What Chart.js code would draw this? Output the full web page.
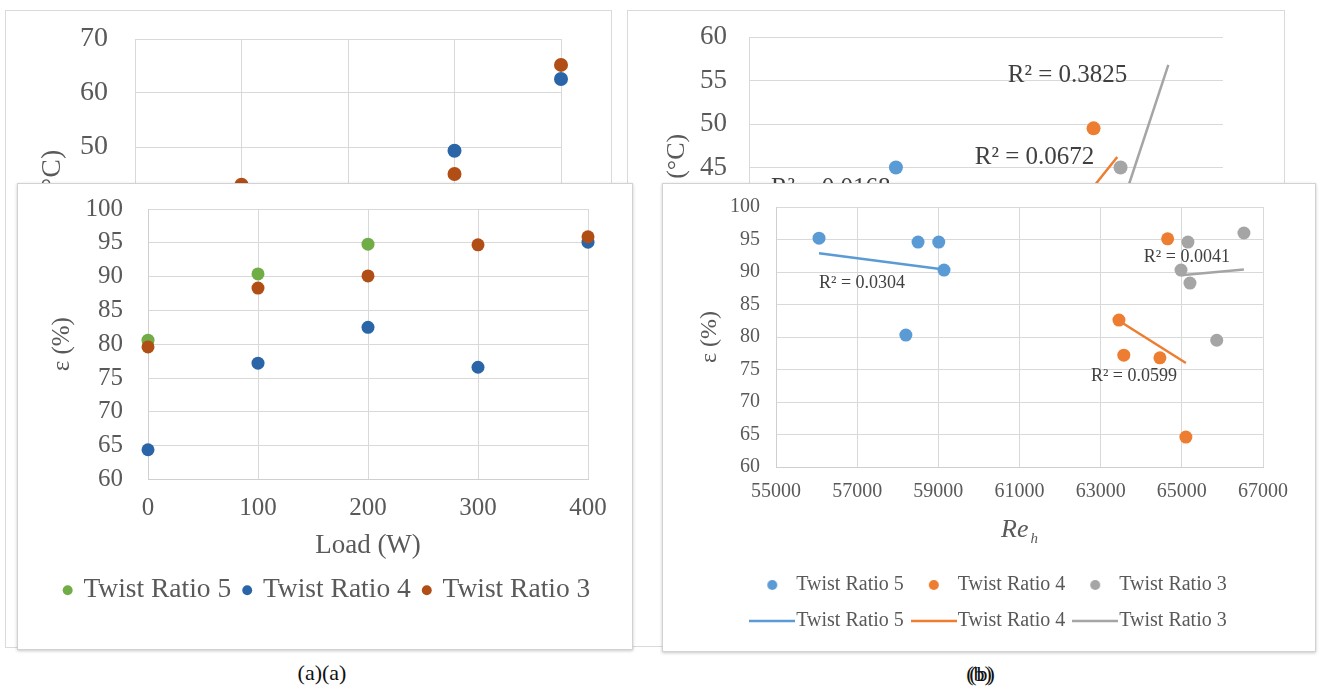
<!DOCTYPE html>
<html><head><meta charset="utf-8">
<script src="https://cdn.jsdelivr.net/npm/chart.js@4"></script>
<style>
html,body{margin:0;padding:0;background:#fff;}
body{width:1319px;height:691px;position:relative;overflow:hidden;font-family:"Liberation Serif",serif;}
.panel{position:absolute;background:#fff;box-sizing:border-box;}
.bg{border:1px solid #dadada;}
.fg{border:1px solid #d2d2d2;box-shadow:0 1px 3px rgba(0,0,0,0.22);}
canvas{position:absolute;}
.cap{position:absolute;font:22px "Liberation Serif",serif;color:#111;transform:translate(-50%,-50%);white-space:nowrap;}
</style></head><body>
<div class="panel bg" style="left:5px;top:10px;width:607px;height:638px;z-index:1"></div>
<canvas id="bgA" width="607" height="638" style="left:5px;top:10px;z-index:2"></canvas>
<div class="panel bg" style="left:627px;top:10px;width:658px;height:637px;z-index:1"></div>
<canvas id="bgB" width="658" height="637" style="left:627px;top:10px;z-index:2"></canvas>
<div class="panel fg" style="left:17px;top:183px;width:616px;height:467px;z-index:3"></div>
<canvas id="fgA" width="616" height="467" style="left:17px;top:183px;z-index:4"></canvas>
<div class="panel fg" style="left:662px;top:183px;width:654px;height:469px;z-index:3"></div>
<canvas id="fgB" width="654" height="469" style="left:662px;top:183px;z-index:4"></canvas>
<div class="cap" style="left:322px;top:673px;">(a)(a)</div>
<div class="cap" style="left:979px;top:674px;">(b)</div>
<div class="cap" style="left:982px;top:674px;">(b)</div>
<script>
// ---------- (a) background: temperature vs load (partially hidden) ----------
const bgLoadsTR4 = [300, 400];
const bgTempTR4 = [49.3, 62.6];
const bgLoadsTR3 = [100, 300, 400];
const bgTempTR3 = [43.0, 45.0, 65.2];

// ---------- (b) background: temperature vs Re (partially hidden) ----------
const bgReTR5 = [59030];
const bgTempReTR5 = [45.0];
const bgReTR4 = [64450];
const bgTempReTR4 = [49.5];
const bgReTR3 = [65190];
const bgTempReTR3 = [45.0];
const bgTrendReTR4 = [63400, 65100];
const bgTrendTempTR4 = [37.3, 46.2];
const bgTrendReTR3 = [65000, 66500];
const bgTrendTempTR3 = [37.7, 56.8];
const bgR2Texts = ['R\u00B2 = 0.0168', 'R\u00B2 = 0.0672', 'R\u00B2 = 0.3825'];
const bgR2Re = [55600, 61192, 62096];
const bgR2Temp = [42.6, 46.1, 55.6];

// ---------- (a) effectiveness vs load ----------
const loads = [0, 100, 200, 300, 400];
const effTR5 = [80.6, 90.4, 94.8, null, null];
const effTR4 = [64.4, 77.2, 82.5, 76.6, 95.1];
const effTR3 = [79.6, 88.3, 90.1, 94.7, 95.9];

// ---------- (b) effectiveness vs Re_h ----------
const reTR5 = [56060, 58500, 59010, 59140, 58200];
const effReTR5 = [95.2, 94.6, 94.6, 90.3, 80.3];
const reTR4 = [63450, 63570, 64460, 64650, 65100];
const effReTR4 = [82.6, 77.2, 76.8, 95.1, 64.6];
const reTR3 = [64980, 65150, 65200, 65860, 66530];
const effReTR3 = [90.3, 94.6, 88.3, 79.5, 96.0];
const trendReTR5 = [56060, 59140];
const trendEffTR5 = [92.9, 90.4];
const trendReTR4 = [63450, 65100];
const trendEffTR4 = [82.5, 76.0];
const trendReTR3 = [64980, 66530];
const trendEffTR3 = [89.5, 90.4];
const r2Texts = ['R\u00B2 = 0.0304', 'R\u00B2 = 0.0599', 'R\u00B2 = 0.0041'];
const r2Re = [56059, 62759, 64064];
const r2Eff = [88.3, 74.0, 92.3];

const seriesNames = ['Twist Ratio 5', 'Twist Ratio 4', 'Twist Ratio 3'];

// ---------- helpers ----------
Chart.defaults.font.family = '"Liberation Serif", "Times New Roman", serif';
Chart.defaults.color = '#595959';
Chart.defaults.animation = false;
const GRID = '#d9d9d9';
const TXT = '#595959';
const A_GREEN = '#70ad47', A_BLUE = '#2a65a8', A_BROWN = '#b04e16';
const B_BLUE = '#5b9bd5', B_ORANGE = '#ed7d31', B_GREY = '#a5a5a5';

function pts(xs, ys) {
  const out = [];
  xs.forEach((x, i) => { if (ys[i] !== null && ys[i] !== undefined) out.push({x: x, y: ys[i]}); });
  return out;
}
const fixW = w => s => { s.width = w; s.paddingTop = 0; s.paddingBottom = 0; };
const fixH = h => s => { s.height = h; s.paddingLeft = 0; s.paddingRight = 0; };
const plain = v => String(v);
const byIndex = (a, b) => a.datasetIndex - b.datasetIndex;

function labelPlugin(texts, xs, ys, font, color) {
  return {
    id: 'r2labels',
    afterDatasetsDraw(chart) {
      const ctx = chart.ctx, x = chart.scales.x, y = chart.scales.y;
      ctx.save();
      ctx.font = font; ctx.fillStyle = color;
      ctx.textAlign = 'left'; ctx.textBaseline = 'middle';
      texts.forEach((t, i) => ctx.fillText(t, x.getPixelForValue(xs[i]), y.getPixelForValue(ys[i])));
      ctx.restore();
    }
  };
}

function scatterSet(label, data, color, radius, order) {
  return {label, data, xAxisID: 'x', yAxisID: 'y', backgroundColor: color, borderColor: color, borderWidth: 0,
          pointRadius: radius, pointHoverRadius: radius, pointStyle: 'circle', order, clip: false};
}
function trendSet(label, data, color, order) {
  return {label, data, xAxisID: 'x', yAxisID: 'y', showLine: true, borderColor: color, backgroundColor: color, borderWidth: 2.5,
          pointRadius: 0, pointHoverRadius: 0, pointStyle: 'line', fill: false, order, clip: false};
}
function gridOpts() { return {color: GRID, lineWidth: 1, drawTicks: false}; }

// ---------- background (a) ----------
new Chart(document.getElementById('bgA'), {
  type: 'scatter',
  data: {datasets: [
    scatterSet(seriesNames[1], pts(bgLoadsTR4, bgTempTR4), A_BLUE, 7, 1),
    scatterSet(seriesNames[2], pts(bgLoadsTR3, bgTempTR3), A_BROWN, 7, 0)
  ]},
  options: {
    responsive: false, devicePixelRatio: 1, animation: false,
    layout: {padding: {left: 0, right: 51, top: 29, bottom: 279}},
    scales: {
      x: {type: 'linear', min: 0, max: 400, ticks: {stepSize: 100, font: {size: 28}, color: TXT, callback: plain},
          grid: gridOpts(), border: {color: GRID}, afterFit: fixH(60)},
      y: {min: 20, max: 70, ticks: {stepSize: 10, padding: 27, autoSkip: false, font: {size: 28}, color: TXT, callback: plain},
          grid: gridOpts(), border: {color: GRID},
          title: {display: true, text: '(\u00B0C)', font: {size: 28}, color: TXT, padding: {top: 31, bottom: 0}},
          afterFit: fixW(130)}
    },
    plugins: {legend: {display: false}, tooltip: {enabled: false}}
  }
});

// ---------- background (b) ----------
new Chart(document.getElementById('bgB'), {
  type: 'scatter',
  data: {datasets: [
    scatterSet(seriesNames[0], pts(bgReTR5, bgTempReTR5), B_BLUE, 7, 3),
    scatterSet(seriesNames[1], pts(bgReTR4, bgTempReTR4), B_ORANGE, 7, 2),
    scatterSet(seriesNames[2], pts(bgReTR3, bgTempReTR3), B_GREY, 7, 1),
    trendSet(seriesNames[1], pts(bgTrendReTR4, bgTrendTempTR4), B_ORANGE, 0),
    trendSet(seriesNames[2], pts(bgTrendReTR3, bgTrendTempTR3), B_GREY, 0)
  ]},
  options: {
    responsive: false, devicePixelRatio: 1, animation: false,
    layout: {padding: {left: 0, right: 62, top: 27, bottom: 289}},
    scales: {
      x: {type: 'linear', min: 55000, max: 68000, ticks: {stepSize: 5000, font: {size: 27}, color: TXT, callback: plain},
          afterBuildTicks: s => { s.ticks = s.ticks.filter(t => t.value % 5000 === 0); },
          grid: gridOpts(), border: {color: GRID}, afterFit: fixH(60)},
      y: {min: 30, max: 60, ticks: {stepSize: 5, padding: 22, autoSkip: false, font: {size: 27}, color: TXT, callback: plain},
          grid: gridOpts(), border: {color: GRID},
          title: {display: true, text: 'T (\u00B0C)', font: {size: 26}, color: TXT, padding: {top: 35, bottom: 0}},
          afterFit: fixW(122)}
    },
    plugins: {legend: {display: false}, tooltip: {enabled: false}}
  },
  plugins: [labelPlugin(bgR2Texts, bgR2Re, bgR2Temp, '25px "Liberation Serif"', '#404040')]
});

// ---------- foreground (a) ----------
new Chart(document.getElementById('fgA'), {
  type: 'scatter',
  data: {datasets: [
    scatterSet(seriesNames[0], pts(loads, effTR5), A_GREEN, 6.5, 2),
    scatterSet(seriesNames[1], pts(loads, effTR4), A_BLUE, 6.5, 1),
    scatterSet(seriesNames[2], pts(loads, effTR3), A_BROWN, 6.5, 0)
  ]},
  options: {
    responsive: false, devicePixelRatio: 1, animation: false,
    layout: {padding: {left: 22, right: 16, top: 26, bottom: 36}},
    scales: {
      x: {type: 'linear', min: 0, max: 400,
          ticks: {stepSize: 100, padding: 14, font: {size: 25}, color: TXT, callback: plain},
          grid: gridOpts(), border: {color: '#cfcfcf'},
          title: {display: true, text: 'Load (W)', font: {size: 27}, color: TXT, padding: {top: 0, bottom: 0}},
          afterFit: fixH(83)},
      y: {min: 60, max: 100,
          ticks: {stepSize: 5, padding: 25, autoSkip: false, font: {size: 25}, color: TXT, callback: plain},
          grid: gridOpts(), border: {color: '#cfcfcf'},
          title: {display: true, text: '\u03B5 (%)', font: {size: 25}, color: TXT, padding: {top: 8, bottom: 0}},
          afterFit: fixW(109)},
      yspace: {type: 'linear', position: 'right', display: true, min: 0, max: 1,
          grid: {display: false, drawTicks: false}, ticks: {display: false}, border: {display: false},
          afterFit: fixW(29)}
    },
    plugins: {
      legend: {position: 'bottom', labels: {usePointStyle: true, boxWidth: 4, boxHeight: 7, padding: 14,
               font: {size: 27.5}, color: TXT, sort: byIndex}},
      tooltip: {enabled: false}
    }
  }
});

// ---------- foreground (b) ----------
function dotIcon(color) {
  const c = document.createElement('canvas'); c.width = 14; c.height = 14;
  const g = c.getContext('2d'); g.fillStyle = color; g.beginPath(); g.arc(7, 7, 5, 0, Math.PI * 2); g.fill();
  return c;
}
function lineIcon(color) {
  const c = document.createElement('canvas'); c.width = 46; c.height = 4;
  const g = c.getContext('2d'); g.strokeStyle = color; g.lineWidth = 2.5;
  g.beginPath(); g.moveTo(0, 2); g.lineTo(46, 2); g.stroke();
  return c;
}
const legendIcons = [dotIcon(B_BLUE), dotIcon(B_ORANGE), dotIcon(B_GREY),
                     lineIcon(B_BLUE), lineIcon(B_ORANGE), lineIcon(B_GREY)];

const rehTitle = {
  id: 'rehTitle',
  afterDraw(chart) {
    const {ctx, chartArea} = chart;
    const cx = (chartArea.left + chartArea.right) / 2;
    const cy = chartArea.bottom + 63;
    ctx.save();
    ctx.fillStyle = TXT; ctx.textBaseline = 'middle'; ctx.textAlign = 'left';
    ctx.font = 'italic 26px "Liberation Serif"';
    const w = ctx.measureText('Re').width;
    ctx.font = 'italic 15px "Liberation Serif"';
    const wh = ctx.measureText('h').width;
    const x0 = cx - (w + wh + 2) / 2;
    ctx.font = 'italic 26px "Liberation Serif"';
    ctx.fillText('Re', x0, cy);
    ctx.font = 'italic 15px "Liberation Serif"';
    ctx.fillText('h', x0 + w + 2, cy + 9);
    ctx.restore();
  }
};

new Chart(document.getElementById('fgB'), {
  type: 'scatter',
  data: {datasets: [
    scatterSet(seriesNames[0], pts(reTR5, effReTR5), B_BLUE, 6.5, 3),
    scatterSet(seriesNames[1], pts(reTR4, effReTR4), B_ORANGE, 6.5, 2),
    scatterSet(seriesNames[2], pts(reTR3, effReTR3), B_GREY, 6.5, 1),
    trendSet(seriesNames[0], pts(trendReTR5, trendEffTR5), B_BLUE, 0),
    trendSet(seriesNames[1], pts(trendReTR4, trendEffTR4), B_ORANGE, 0),
    trendSet(seriesNames[2], pts(trendReTR3, trendEffTR3), B_GREY, 0)
  ]},
  options: {
    responsive: false, devicePixelRatio: 1, animation: false,
    layout: {padding: {left: 60, right: 53, top: 24, bottom: 11}},
    scales: {
      x: {type: 'linear', min: 55000, max: 67000,
          ticks: {stepSize: 2000, padding: 13, font: {size: 20}, color: TXT, callback: plain},
          grid: gridOpts(), border: {color: '#cfcfcf'}, afterFit: fixH(92)},
      y: {min: 60, max: 100,
          ticks: {stepSize: 5, padding: 16, autoSkip: false, font: {size: 20}, color: TXT, callback: plain},
          grid: gridOpts(), border: {color: '#cfcfcf'},
          title: {display: true, text: '\u03B5 (%)', font: {size: 24}, color: TXT, padding: {top: -27, bottom: 0}},
          afterFit: fixW(54)}
    },
    plugins: {
      legend: {position: 'bottom', labels: {
        usePointStyle: true, pointStyleWidth: 28, boxHeight: 20, padding: 16, font: {size: 20}, color: TXT,
        sort: byIndex,
        generateLabels(chart) {
          const items = Chart.defaults.plugins.legend.labels.generateLabels(chart);
          items.forEach(it => { it.pointStyle = legendIcons[it.datasetIndex]; });
          return items;
        }
      }},
      tooltip: {enabled: false}
    }
  },
  plugins: [labelPlugin(r2Texts, r2Re, r2Eff, '18px "Liberation Serif"', '#404040'), rehTitle]
});
</script>
</body></html>
